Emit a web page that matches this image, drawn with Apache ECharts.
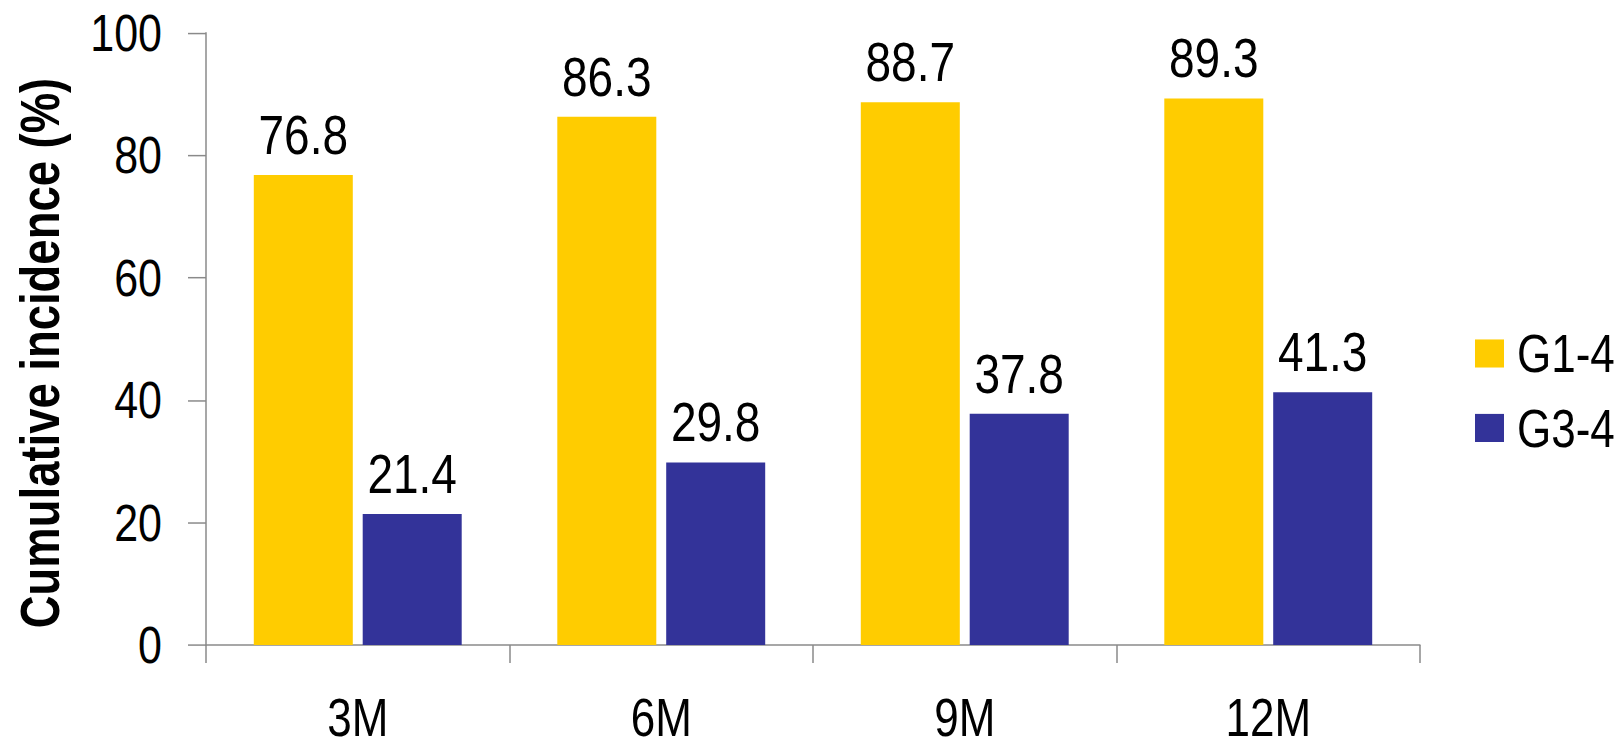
<!DOCTYPE html>
<html>
<head>
<meta charset="utf-8">
<title>Cumulative incidence</title>
<script src="https://cdn.jsdelivr.net/npm/echarts@6/dist/echarts.min.js"></script>
<style>
  html, body { margin: 0; padding: 0; background: #fff; overflow: hidden; }
  #frame { width: 1614px; height: 747px; overflow: hidden; }
  /* Chart is laid out at a reduced height and stretched vertically so that
     the lettering gets the tall, condensed look of a narrow typeface. */
  #chart { width: 1614px; height: 612px; transform-origin: 0 0; }
</style>
</head>
<body>
<div id="frame"><div id="chart"></div></div>
<script>
// Time points and cumulative incidence (%) by grade group
const categories = ['3M', '6M', '9M', '12M'];
const g14 = [76.8, 86.3, 88.7, 89.3];
const g34 = [21.4, 29.8, 37.8, 41.3];
const yTicks = [0, 20, 40, 60, 80, 100];
const seriesNames = ['G1-4', 'G3-4'];
const yTitle = 'Cumulative incidence (%)';

const STRETCH = 747 / 612;
document.getElementById('chart').style.transform = 'scaleY(' + STRETCH + ')';

const FONT = '"Liberation Sans", Arial, Helvetica, sans-serif';
const AXIS_GRAY = '#8a8a8a';
const LINE = 1.5;               // on-screen line width
const HLINE = LINE / STRETCH;   // horizontal strokes get stretched

const chart = echarts.init(document.getElementById('chart'), null, { renderer: 'svg' });

const labelStyle = {
  show: true,
  position: 'top',
  distance: 10,
  color: '#000',
  fontFamily: FONT,
  fontSize: 46,
  formatter: p => p.value.toFixed(1)
};

chart.setOption({
  animation: false,
  backgroundColor: '#ffffff',
  grid: { left: 206, right: 194, top: 33 / STRETCH, bottom: (747 - 645) / STRETCH, containLabel: false },
  legend: {
    orient: 'vertical',
    left: 1470,
    top: 262.6,
    itemWidth: 29,
    itemHeight: 23,
    itemGap: 17,
    icon: 'rect',
    textStyle: { fontFamily: FONT, fontSize: 44, color: '#000', padding: [0, 0, 0, 8] },
    data: seriesNames
  },
  graphic: [{
    type: 'text',
    x: 40,
    y: 289.2,
    rotation: Math.PI / 2,
    scaleX: 0.677,
    silent: true,
    style: {
      text: yTitle,
      fontFamily: FONT,
      fontSize: 55,
      fontWeight: 'bold',
      fill: '#000',
      align: 'center',
      verticalAlign: 'middle'
    }
  }],
  xAxis: {
    type: 'category',
    data: categories,
    axisLine: { lineStyle: { color: AXIS_GRAY, width: HLINE } },
    axisTick: { show: true, length: 18 / STRETCH, alignWithLabel: false, lineStyle: { color: AXIS_GRAY, width: LINE } },
    axisLabel: { margin: 42, lineHeight: 34, color: '#000', fontFamily: FONT, fontSize: 44 }
  },
  yAxis: {
    type: 'value',
    min: yTicks[0],
    max: yTicks[yTicks.length - 1],
    interval: 20,
    splitLine: { show: false },
    axisLine: { show: true, lineStyle: { color: AXIS_GRAY, width: LINE } },
    axisTick: { show: true, length: 18, lineStyle: { color: AXIS_GRAY, width: HLINE } },
    axisLabel: { margin: 44, color: '#000', fontFamily: FONT, fontSize: 43 }
  },
  series: [
    {
      name: seriesNames[0],
      type: 'bar',
      data: g14,
      barWidth: 99,
      barGap: '10%',
      itemStyle: { color: '#FFCC00' },
      label: labelStyle
    },
    {
      name: seriesNames[1],
      type: 'bar',
      data: g34,
      barWidth: 99,
      barGap: '10%',
      itemStyle: { color: '#333399' },
      label: labelStyle
    }
  ]
});
</script>
</body>
</html>
